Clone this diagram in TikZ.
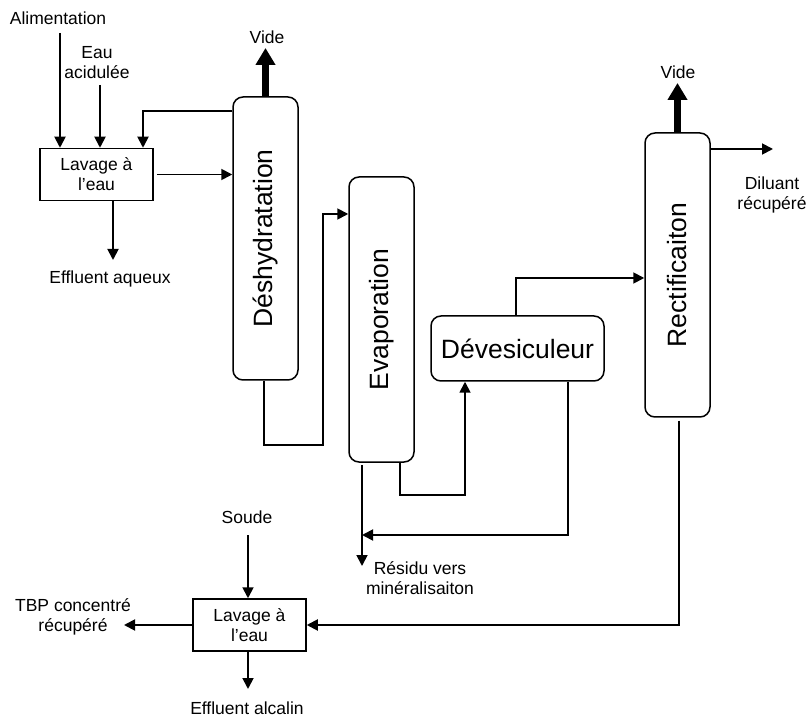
\documentclass[tikz,border=0pt]{standalone}
\usepackage{fontspec}
\setmainfont{Liberation Sans}
\usetikzlibrary{arrows.meta}
\begin{document}
\begin{tikzpicture}[x=1pt,y=-1pt,
 lbl/.style={font=\fontsize{17.5}{20}\selectfont, align=center, inner sep=0pt},
 box/.style={draw, line width=1.5pt, minimum width=113pt, minimum height=52pt, font=\fontsize{17.5}{20}\selectfont, align=center, inner sep=0pt},
 col/.style={draw, line width=1.5pt, rounded corners=10pt, inner sep=0pt},
 big/.style={font=\fontsize{26.5}{30}\selectfont, inner sep=0pt},
 arr/.style={line width=1.8pt, -{Triangle[length=11pt,width=11pt]}},
 thickarr/.style={line width=7pt, -{Triangle[length=17pt,width=19pt]}},
]
\useasboundingbox (0,0) rectangle (807,722);

% process units
\node[box] (box1) at (96.5,174.5) {Lavage à\\l’eau};
\node[col, minimum width=65pt, minimum height=283pt] (desh) at (265.5,238.5) {};
\node[big, rotate=90] (deshT) at (desh.center) {Déshydratation};
\node[col, minimum width=65pt, minimum height=285pt] (evap) at (381.5,319.5) {};
\node[big, rotate=90] (evapT) at (evap.center) {Evaporation};
\node[col, minimum width=173pt, minimum height=65pt, big] (dev) at (517.5,348.5) {Dévesiculeur};
\node[col, minimum width=65pt, minimum height=284pt] (rect) at (677.5,275) {};
\node[big, rotate=90] (rectT) at (rect.center) {Rectificaiton};
\node[box] (box2) at (249.5,625) {Lavage à\\l’eau};

% labels
\node[lbl] (alim) at (58,18) {Alimentation};
\node[lbl] (eau) at (97,63) {Eau\\acidulée};
\node[lbl] (effaq) at (110,279) {Effluent aqueux};
\node[lbl] (vide1) at (267,37) {Vide};
\node[lbl] (vide2) at (678,72) {Vide};
\node[lbl] (dil) at (772,195) {Diluant\\récupéré};
\node[lbl] (res) at (420,578) {Résidu vers\\minéralisaiton};
\node[lbl] (soude) at (247,517) {Soude};
\node[lbl] (tbp) at (73,617) {TBP concentré\\récupéré};
\node[lbl] (effal) at (247,708) {Effluent alcalin};

% free ends
\coordinate (alimS) at (60,33);
\coordinate (eauS) at (100,85);
\coordinate (effaqE) at (113,260);
\coordinate (vide1E) at (265.5,48);
\coordinate (vide2E) at (677.5,83);
\coordinate (dilE) at (773,149);
\coordinate (resJ) at (362,535);
\coordinate (resE) at (362,566);
\coordinate (soudeS) at (248,535);
\coordinate (tbpE) at (124,625);
\coordinate (effalE) at (248,689);

% connectors
\draw[arr] (alimS) -- (alimS |- box1.north);
\draw[arr] (eauS) -- (eauS |- box1.north);
\draw[arr] (desh.west |- 0,111) -| ([xshift=46.5pt]box1.north);
\draw[arr] ([xshift=3pt]box1.east) -- (box1.east -| desh.west);
\draw[arr] ([xshift=16.5pt]box1.south) -- (effaqE);
\draw[thickarr] (desh.north) -- (vide1E);
\draw[arr] ([xshift=-1.5pt]desh.south) |- (323,445) |- (evap.west |- 0,214);
\draw[arr] ([xshift=18.5pt]evap.south) |- (465,495) -- ([xshift=-52.5pt]dev.south);
\draw[arr] ([xshift=-1.5pt]dev.north) |- (rect.west |- 0,278);
\draw[arr] ([xshift=50.5pt]dev.south) |- (resJ);
\draw[arr] ([xshift=-19.5pt,yshift=-2pt]evap.south) -- (resE);
\draw[thickarr] (rect.north) -- (vide2E);
\draw[arr] (rect.east |- 0,149) -- (dilE);
\draw[arr, shorten <=3pt] ([xshift=1.5pt]rect.south) |- (box2.east);
\draw[arr] (soudeS) -- (soudeS |- box2.north);
\draw[arr] (box2.west) -- (tbpE);
\draw[arr] ([xshift=-1.5pt]box2.south) -- (effalE);
\end{tikzpicture}
\end{document}
